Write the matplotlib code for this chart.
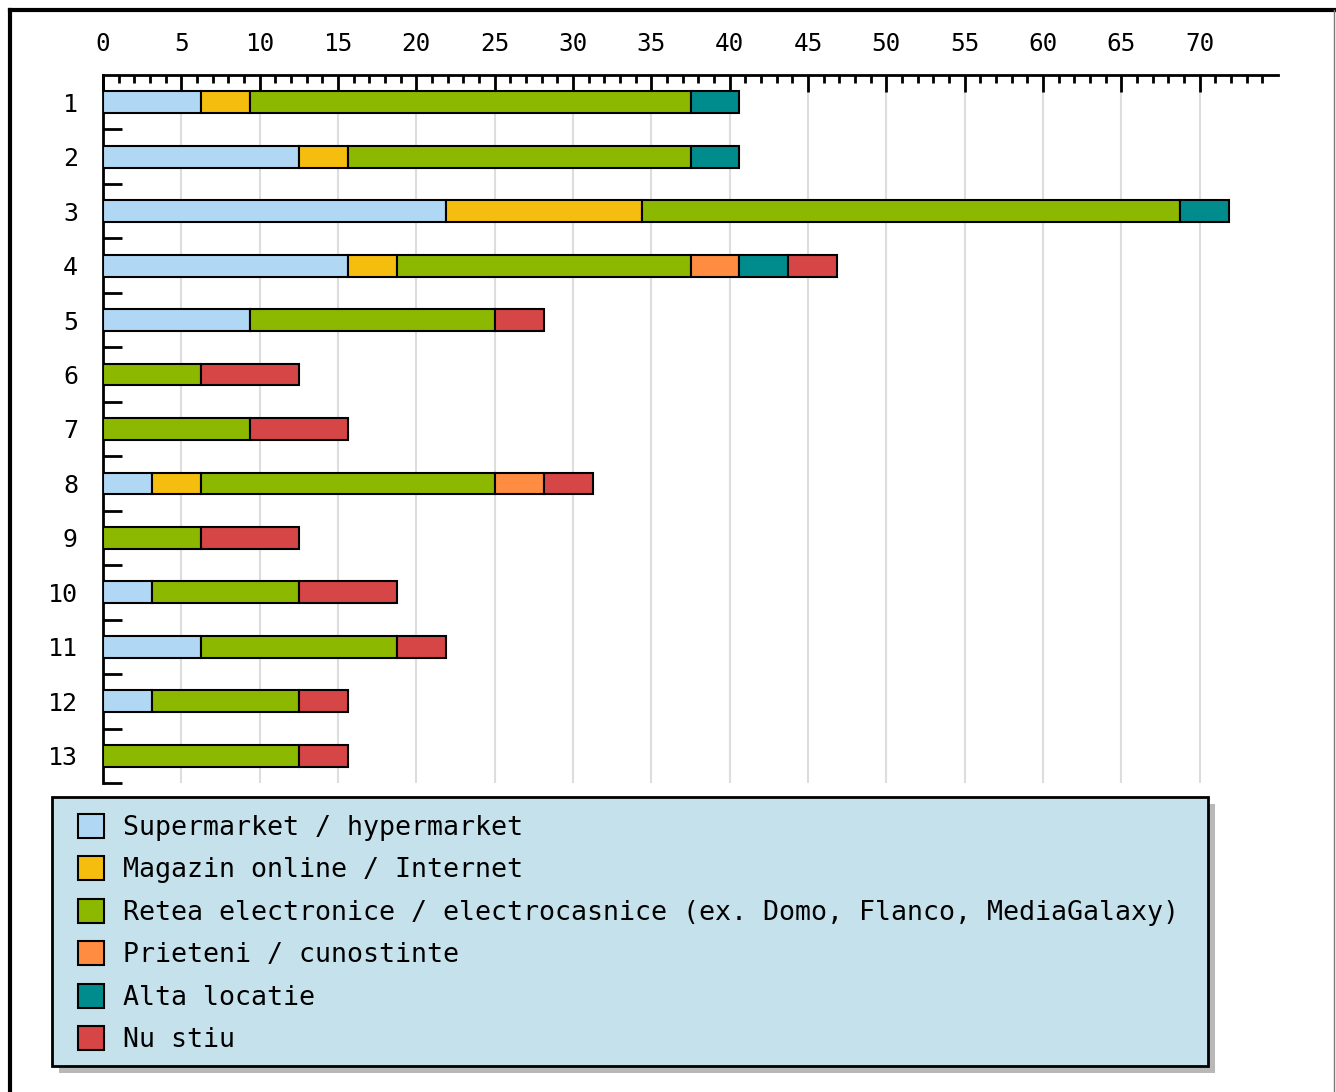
import numpy as np
import matplotlib
matplotlib.use('Agg')
import matplotlib.pyplot as plt
from matplotlib.patches import Patch, Rectangle
from matplotlib.lines import Line2D

# date (procente)
categories = ['1', '2', '3', '4', '5', '6', '7', '8', '9', '10', '11', '12', '13']
series_names = ['Supermarket / hypermarket',
                'Magazin online / Internet',
                'Retea electronice / electrocasnice (ex. Domo, Flanco, MediaGalaxy)',
                'Prieteni / cunostinte',
                'Alta locatie',
                'Nu stiu']
supermarket = [6.25, 12.5, 21.875, 15.625, 9.375, 0, 0, 3.125, 0, 3.125, 6.25, 3.125, 0]
magazin = [3.125, 3.125, 12.5, 3.125, 0, 0, 0, 3.125, 0, 0, 0, 0, 0]
retea = [28.125, 21.875, 34.375, 18.75, 15.625, 6.25, 9.375, 18.75, 6.25, 9.375, 12.5, 9.375, 12.5]
prieteni = [0, 0, 0, 3.125, 0, 0, 0, 3.125, 0, 0, 0, 0, 0]
alta = [3.125, 3.125, 3.125, 3.125, 0, 0, 0, 0, 0, 0, 0, 0, 0]
nu_stiu = [0, 0, 0, 3.125, 3.125, 6.25, 6.25, 3.125, 6.25, 6.25, 3.125, 3.125, 3.125]
colors = ['#b0d8f5', '#f5be0f', '#8cb800', '#ff8c40', '#008c8c', '#d64646']

W, H = 1336, 1092
plt.rcParams['font.family'] = ['DejaVu Sans Mono']
fig = plt.figure(figsize=(W / 100, H / 100), dpi=100)


def fx(px):
    return px / W


def fy(py):
    return 1 - py / H


# chenar
fig.add_artist(Line2D([fx(10), fx(1334)], [fy(10), fy(10)], color='black', lw=3))
fig.add_artist(Line2D([fx(10), fx(10)], [fy(10), 0], color='black', lw=3))
fig.add_artist(Line2D([fx(1334), fx(1334)], [fy(10), 0], color='#777777', lw=1))

ax = fig.add_axes([fx(103), fy(783), fx(1278) - fx(103), fy(75) - fy(783)])

y = np.arange(len(categories))
data = [supermarket, magazin, retea, prieteni, alta, nu_stiu]
left = np.zeros(len(categories))
for vals, c in zip(data, colors):
    vals = np.array(vals)
    mask = vals > 0
    ax.barh(y[mask], vals[mask], left=left[mask], height=0.4, color=c,
            edgecolor='black', linewidth=1.5, zorder=3)
    left = left + vals

ax.set_xlim(0, 75)
ax.set_ylim(len(categories) - 0.5, -0.5)

ax.xaxis.tick_top()
ax.set_xticks(np.arange(0, 71, 5))
ax.set_xticks(np.arange(0, 75, 1), minor=True)
ax.tick_params(axis='x', which='major', direction='in', length=12, width=2,
               labelsize=17.5, pad=14)
ax.tick_params(axis='x', which='minor', direction='in', length=6, width=2)

ax.set_yticks(y)
ax.set_yticklabels(categories)
ax.set_yticks(np.arange(0.5, len(categories), 1), minor=True)
ax.tick_params(axis='y', which='major', length=0, labelsize=18, pad=18)
ax.tick_params(axis='y', which='minor', direction='in', length=14, width=2)

for g in range(5, 75, 5):
    ax.axvline(g, color='#dddddd', lw=1.5, zorder=1)

for s in ['right', 'bottom']:
    ax.spines[s].set_visible(False)
ax.spines['top'].set_linewidth(2)
ax.spines['left'].set_linewidth(2)

# legenda
lx0, ly0, lx1, ly1 = 52, 797, 1208, 1066
fig.add_artist(Rectangle((fx(lx0 + 7), fy(ly1 + 7)), fx(lx1 - lx0), fy(ly0) - fy(ly1),
                         facecolor='#b8b8b8', edgecolor='none'))
fig.add_artist(Rectangle((fx(lx0), fy(ly1)), fx(lx1 - lx0), fy(ly0) - fy(ly1),
                         facecolor='#c5e2ec', edgecolor='black', lw=2))
handles = [Patch(facecolor=c, edgecolor='black', lw=1.5) for c in colors]
fig.legend(handles, series_names, loc='upper left',
           bbox_to_anchor=(fx(67), fy(803)), frameon=False, fontsize=19.2,
           handlelength=1.0, handleheight=1.0, handletextpad=0.7,
           labelspacing=0.58, borderaxespad=0)

fig.savefig('out.png', dpi=100)
